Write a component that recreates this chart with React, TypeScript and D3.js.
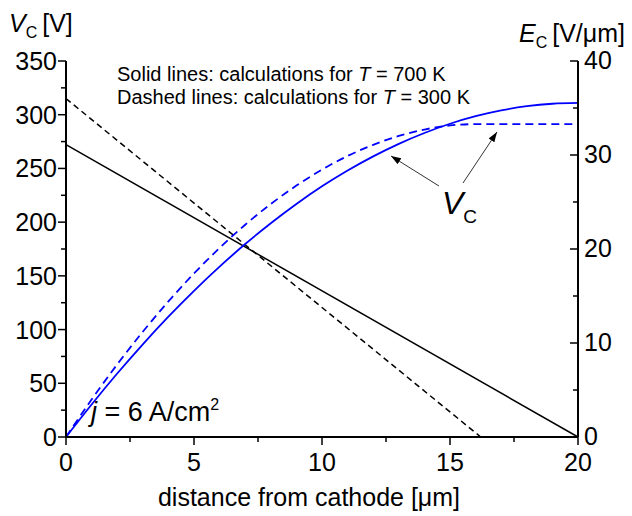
import React from "react";
import * as d3 from "d3";

// distance from cathode [µm]
const xPos = [0, 1, 2, 3, 4, 5, 6, 7, 8, 9, 10, 11, 12, 13, 14, 15, 16, 17, 18, 19, 20];
// V_C [V], T = 700 K (solid blue)
const vc700 = [0, 30.3, 59.1, 86.3, 112.0, 136.1, 158.6, 179.6, 199.0, 216.9, 233.3, 248.0, 261.2, 272.9, 283.0, 291.6, 298.6, 304.0, 307.9, 310.2, 311.0];
// V_C [V], T = 300 K (dashed blue)
const vc300 = [0, 34.9, 67.6, 98.0, 126.2, 152.2, 176.0, 197.6, 216.9, 234.0, 248.9, 261.6, 272.0, 280.2, 286.2, 290.0, 291.2, 291.2, 291.2, 291.2, 291.2];
// E_C [V/µm] (black lines)
const ec700X = [0, 20];
const ec700 = [31.1, 0];
const ec300X = [0, 16.2];
const ec300 = [36.0, 0];

const xTicks = [0, 5, 10, 15, 20];
const leftTicks = [0, 50, 100, 150, 200, 250, 300, 350];
const rightTicks = [0, 10, 20, 30, 40];

const W = 632;
const H = 516;
const L = 66;
const R = 578;
const T = 61;
const B = 437;
const FONT = "'Liberation Sans', Arial, sans-serif";
const BLUE = "#0000ff";

export default function App() {
  const x = d3.scaleLinear().domain([0, 20]).range([L, R]);
  const yV = d3.scaleLinear().domain([0, 350]).range([B, T]);
  const yE = d3.scaleLinear().domain([0, 40]).range([B, T]);

  const lineV = d3.line<number>().x((_, i) => x(xPos[i])).y((d) => yV(d)).curve(d3.curveMonotoneX);
  const lineE = (xs: number[]) => d3.line<number>().x((_, i) => x(xs[i])).y((d) => yE(d));

  const xMinor = d3.range(0, 20.01, 2.5);
  const vMinor = d3.range(0, 350.01, 25);
  const eMinor = d3.range(0, 40.01, 5);

  return (
    <svg width={W} height={H} style={{ position: "absolute", left: 0, top: 0, background: "#fff" }} fontFamily={FONT}>
      <defs>
        <marker id="arr" viewBox="0 0 10 10" refX="10" refY="5" markerWidth="10" markerHeight="10" orient="auto" markerUnits="userSpaceOnUse">
          <path d="M0,1.5 L10,5 L0,8.5 Z" fill="#000" />
        </marker>
      </defs>

      {/* data */}
      <path d={lineE(ec700X)(ec700) ?? ""} fill="none" stroke="#000" strokeWidth={1.5} />
      <path d={lineE(ec300X)(ec300) ?? ""} fill="none" stroke="#000" strokeWidth={1.5} strokeDasharray="6,4" />
      <path d={lineV(vc300) ?? ""} fill="none" stroke={BLUE} strokeWidth={1.8} strokeDasharray="8,5" />
      <path d={lineV(vc700) ?? ""} fill="none" stroke={BLUE} strokeWidth={1.8} />

      {/* axes */}
      <line x1={L} x2={R} y1={B} y2={B} stroke="#000" strokeWidth={2} />
      <line x1={L} x2={L} y1={T} y2={B} stroke="#000" strokeWidth={2} />
      <line x1={R} x2={R} y1={T} y2={B} stroke="#000" strokeWidth={2} />

      {xMinor.map((v) => (
        <line key={"xt" + v} x1={x(v)} x2={x(v)} y1={B} y2={B + (v % 5 === 0 ? 8 : 5)} stroke="#000" strokeWidth={1.5} />
      ))}
      {vMinor.map((v) => (
        <line key={"vt" + v} x1={L} x2={L - (v % 50 === 0 ? 8 : 5)} y1={yV(v)} y2={yV(v)} stroke="#000" strokeWidth={1.5} />
      ))}
      {eMinor.map((v) => (
        <line key={"et" + v} x1={R} x2={R - (v % 10 === 0 ? 8 : 5)} y1={yE(v)} y2={yE(v)} stroke="#000" strokeWidth={1.5} />
      ))}

      {xTicks.map((v) => (
        <text key={"xl" + v} x={x(v)} y={B + 34} textAnchor="middle" fontSize={25}>{v}</text>
      ))}
      {leftTicks.map((v) => (
        <text key={"ll" + v} x={L - 9} y={yV(v) + 9} textAnchor="end" fontSize={25}>{v}</text>
      ))}
      {rightTicks.map((v) => (
        <text key={"rl" + v} x={R + 6} y={yE(v) + 8} textAnchor="start" fontSize={25}>{v}</text>
      ))}

      {/* axis titles */}
      <text x={9} y={32} fontSize={25}>
        <tspan fontStyle="italic">V</tspan>
        <tspan fontSize={16} dy={6}>C</tspan>
        <tspan dy={-6} dx={5}>[V]</tspan>
      </text>
      <text x={519} y={42} fontSize={25}>
        <tspan fontStyle="italic">E</tspan>
        <tspan fontSize={16} dy={6}>C</tspan>
        <tspan dy={-6} dx={5}>[V/μm]</tspan>
      </text>
      <text x={(L + R) / 2 - 13} y={506} textAnchor="middle" fontSize={25}>distance from cathode [μm]</text>

      {/* annotations */}
      <text x={117} y={81} fontSize={20}>
        Solid lines: calculations for <tspan fontStyle="italic">T</tspan> = 700 K
      </text>
      <text x={117} y={104} fontSize={20}>
        Dashed lines: calculations for <tspan fontStyle="italic">T</tspan> = 300 K
      </text>
      <text x={91} y={421} fontSize={27}>
        <tspan fontStyle="italic">j</tspan> = 6 A/cm<tspan fontSize={16} dy={-11}>2</tspan>
      </text>
      <text x={442} y={214} fontSize={32}>
        <tspan fontStyle="italic">V</tspan>
        <tspan fontSize={19} dy={9}>C</tspan>
      </text>
      <line x1={439} y1={186} x2={391} y2={156} stroke="#333" strokeWidth={1} markerEnd="url(#arr)" />
      <line x1={463} y1={183} x2={497} y2={132} stroke="#333" strokeWidth={1} markerEnd="url(#arr)" />
    </svg>
  );
}
